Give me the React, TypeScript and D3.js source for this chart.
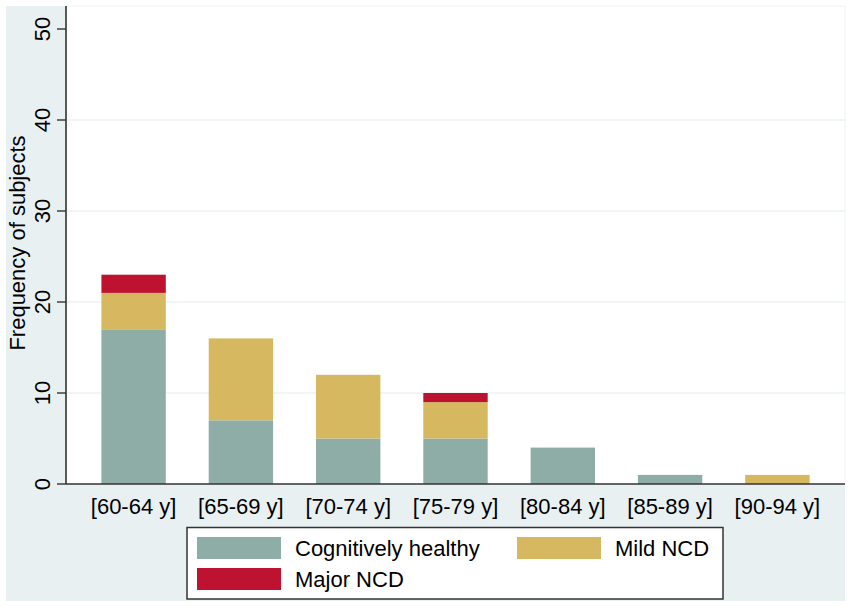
import React from "react";
import * as d3 from "d3";

const categories = ["[60-64 y]", "[65-69 y]", "[70-74 y]", "[75-79 y]", "[80-84 y]", "[85-89 y]", "[90-94 y]"];
const healthy = [17, 7, 5, 5, 4, 1, 0];
const mild = [4, 9, 7, 4, 0, 0, 1];
const major = [2, 0, 0, 1, 0, 0, 0];
const seriesNames = ["Cognitively healthy", "Mild NCD", "Major NCD"];
const seriesColors = ["#8fada7", "#d5b860", "#bd1230"];
const yTicks = [0, 10, 20, 30, 40, 50];
const yTitle = "Frequency of subjects";

const W = 851;
const H = 607;
const FONT = "'Liberation Sans', Arial, Helvetica, sans-serif";

export default function App() {
  const plotL = 66, plotR = 845, plotT = 6, plotB = 484;
  const x = d3.scaleBand<string>().domain(categories).range([plotL, plotR]).paddingInner(0.4).paddingOuter(0.33);
  const y = d3.scaleLinear().domain([0, 50]).range([plotB, 29]);

  const rows = categories.map((c, i) => ({ cat: c, healthy: healthy[i], mild: mild[i], major: major[i] }));
  const stack = d3.stack<any>().keys(["healthy", "mild", "major"])(rows);

  const legendItems = [
    { name: seriesNames[0], color: seriesColors[0], sx: 197, sy: 537 },
    { name: seriesNames[1], color: seriesColors[1], sx: 517, sy: 537 },
    { name: seriesNames[2], color: seriesColors[2], sx: 197, sy: 568 },
  ];

  return (
    <div style={{ position: "absolute", left: 0, top: 0 }}>
      <svg width={W} height={H} style={{ display: "block", fontFamily: FONT }}>
        <rect x={0} y={0} width={W} height={H} fill="#ffffff" />
        <rect x={6} y={6} width={839} height={595} fill="#e9f0f2" />
        <rect x={plotL} y={plotT} width={plotR - plotL} height={plotB - plotT} fill="#ffffff" stroke="#edf2f3" strokeWidth={1} />
        {yTicks.filter((t) => t > 0 && t < 50).map((t) => (
          <line key={t} x1={plotL} x2={plotR} y1={y(t)} y2={y(t)} stroke="#e4ecee" strokeWidth={1.2} />
        ))}
        {stack.map((s, si) => (
          <g key={si} fill={seriesColors[si]}>
            {s.map((d: any, i: number) =>
              d[1] - d[0] > 0 ? (
                <rect key={i} x={x(categories[i])} y={y(d[1])} width={x.bandwidth()} height={y(d[0]) - y(d[1])} />
              ) : null
            )}
          </g>
        ))}
        <line x1={plotL} x2={plotL} y1={plotT} y2={plotB} stroke="#333" strokeWidth={1.6} />
        <line x1={plotL} x2={plotR} y1={plotB} y2={plotB} stroke="#333" strokeWidth={1.6} />
        {yTicks.map((t) => (
          <g key={t}>
            <line x1={57} x2={plotL} y1={y(t)} y2={y(t)} stroke="#333" strokeWidth={1.4} />
            <text transform={`translate(50,${y(t)}) rotate(-90)`} textAnchor="middle" fontSize={22} fill="#000">
              {t}
            </text>
          </g>
        ))}
        <text transform={`translate(25,243) rotate(-90)`} textAnchor="middle" fontSize={22} fill="#000">
          {yTitle}
        </text>
        {categories.map((c) => (
          <text key={c} x={(x(c) as number) + x.bandwidth() / 2} y={514} textAnchor="middle" fontSize={22} fill="#000">
            {c}
          </text>
        ))}
        <rect x={187} y={527.5} width={536} height={71.5} fill="#ffffff" stroke="#333" strokeWidth={1.5} />
        {legendItems.map((it) => (
          <g key={it.name}>
            <rect x={it.sx} y={it.sy} width={84} height={22} fill={it.color} />
            <text x={it.sx + 98} y={it.sy + 19} fontSize={22} fill="#000">
              {it.name}
            </text>
          </g>
        ))}
      </svg>
    </div>
  );
}
